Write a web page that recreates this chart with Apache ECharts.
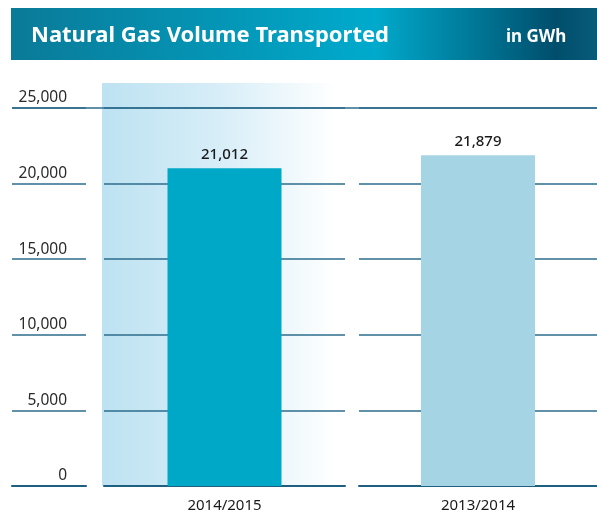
<!DOCTYPE html>
<html>
<head>
<meta charset="utf-8">
<script src="https://cdn.jsdelivr.net/npm/echarts@6/dist/echarts.min.js"></script>
<style>
  html, body { margin: 0; padding: 0; background: #fff; }
  #main { width: 597px; height: 518px; }
</style>
</head>
<body>
<div id="main"></div>
<script>
// data
var categories = ['2014/2015', '2013/2014'];
var volumes = [21012, 21879];
var barColors = ['#00a8c8', '#a5d4e4'];
var yMax = 25000;
var yStep = 5000;

var lineColor = '#2c6c8c';
var fontFamily = 'Noto Sans';

function fmt(v) {
    return String(v).replace(/\B(?=(\d{3})+(?!\d))/g, ',');
}

var myChart = echarts.init(document.getElementById('main'));

// common y axis for every grid
function yAxisFor(gridIndex, extra) {
    var ax = {
        type: 'value',
        gridIndex: gridIndex,
        min: 0,
        max: yMax,
        interval: yStep,
        axisLine: { show: false },
        axisTick: { show: false },
        axisLabel: { show: false },
        splitLine: { show: true, lineStyle: { color: lineColor, width: 1.5 } }
    };
    return Object.assign(ax, extra || {});
}

function xAxisFor(gridIndex, data) {
    return {
        type: 'category',
        gridIndex: gridIndex,
        data: data,
        axisTick: { show: false },
        axisLine: { show: true, lineStyle: { color: '#1f5f80', width: 2 } },
        axisLabel: {
            show: true,
            margin: 12,
            fontFamily: fontFamily,
            fontSize: 15,
            color: '#1a1a1a'
        }
    };
}

var valueLabel = {
    show: true,
    position: 'top',
    distance: 6,
    fontFamily: fontFamily,
    fontSize: 15,
    fontWeight: 500,
    color: '#1a1a1a',
    formatter: function (p) { return fmt(p.value); }
};

var option = {
    animation: false,
    backgroundColor: '#fff',
    graphic: [{
        type: 'rect',
        shape: { x: 11, y: 8, width: 586, height: 52 },
        style: {
            fill: new echarts.graphic.LinearGradient(0, 0, 1, 0, [
                { offset: 0, color: '#0a7a98' },
                { offset: 0.62, color: '#00aacc' },
                { offset: 0.93, color: '#004e6c' },
                { offset: 1, color: '#075b79' }
            ])
        },
        z: -10
    }],
    title: [{
        text: 'Natural Gas Volume Transported',
        left: 26,
        top: 20,
        textStyle: { color: '#fff', fontSize: 22, fontWeight: 'bold', fontFamily: fontFamily }
    }, {
        text: 'in GWh',
        left: 501,
        top: 24,
        textStyle: { color: '#fff', fontSize: 17, fontWeight: 'bold', fontFamily: fontFamily }
    }],
    grid: [
        // shaded highlight behind the current year
        { left: 102, width: 241, top: 83, bottom: 32, show: true, borderWidth: 0,
          backgroundColor: new echarts.graphic.LinearGradient(0, 0, 1, 0, [
              { offset: 0, color: '#bde2f2' },
              { offset: 0.5, color: '#d8eef8' },
              { offset: 0.97, color: '#ffffff' }
          ]) },
        // label column
        { left: 12, width: 74, top: 108, bottom: 32 },
        // 2014/2015
        { left: 104, width: 241, top: 108, bottom: 32 },
        // 2013/2014
        { left: 359, right: 0, top: 108, bottom: 32 },
        // continuous top line
        { left: 12, right: 0, top: 108, bottom: 32 }
    ],
    xAxis: [
        { type: 'category', gridIndex: 0, data: [''], show: false },
        Object.assign(xAxisFor(1, ['']), { axisLabel: { show: false } }),
        xAxisFor(2, [categories[0]]),
        xAxisFor(3, [categories[1]]),
        { type: 'category', gridIndex: 4, data: [''], show: false }
    ],
    yAxis: [
        { type: 'value', gridIndex: 0, min: 0, max: yMax, show: false },
        yAxisFor(1, {
            position: 'right',
            axisLabel: {
                show: true,
                inside: true,
                margin: 19,
                verticalAlign: 'bottom',
                padding: [0, 0, 2, 0],
                fontFamily: fontFamily,
                fontSize: 15.5,
                color: '#2a2a2a',
                formatter: function (v) { return fmt(v); }
            }
        }),
        yAxisFor(2),
        yAxisFor(3),
        yAxisFor(4, {
            interval: yMax,
            splitLine: { show: true, lineStyle: { color: ['rgba(0,0,0,0)', lineColor], width: 1.5 } }
        })
    ],
    series: [{
        type: 'bar',
        xAxisIndex: 2,
        yAxisIndex: 2,
        barWidth: 114,
        data: [{ value: volumes[0], itemStyle: { color: barColors[0] } }],
        label: valueLabel
    }, {
        type: 'bar',
        xAxisIndex: 3,
        yAxisIndex: 3,
        barWidth: 114,
        data: [{ value: volumes[1], itemStyle: { color: barColors[1] } }],
        label: valueLabel
    }]
};

myChart.setOption(option);
</script>
</body>
</html>
